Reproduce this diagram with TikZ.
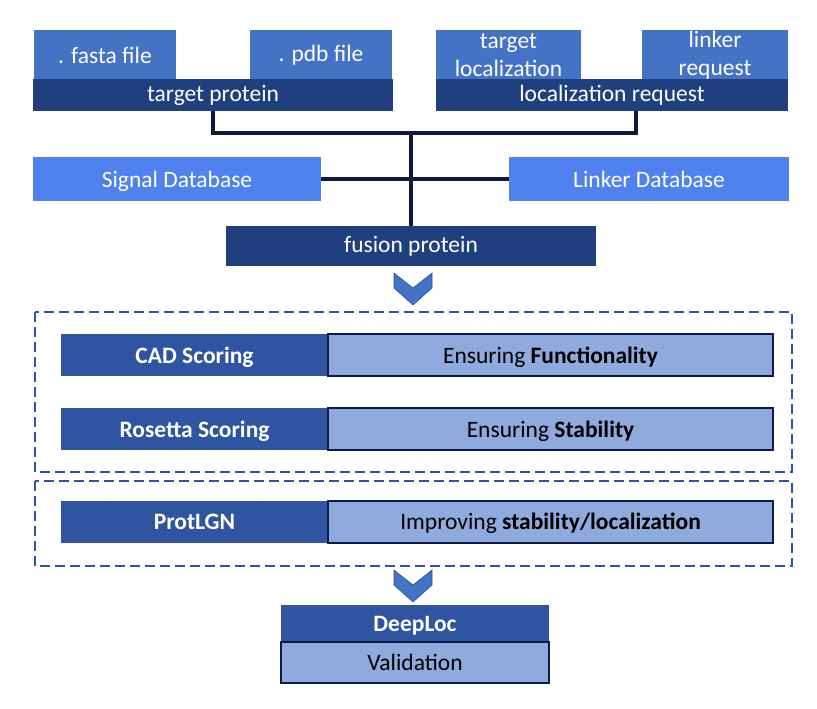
\documentclass[tikz,border=0pt]{standalone}
\usepackage{fontspec}
\setmainfont{Carlito}
\usetikzlibrary{positioning}

\definecolor{fileblue}{HTML}{4472C4}
\definecolor{barnavy}{HTML}{203F7E}
\definecolor{dbblue}{HTML}{4F81EF}
\definecolor{stepblue}{HTML}{2F54A1}
\definecolor{notefill}{HTML}{8FAADC}
\definecolor{noteline}{HTML}{0C1A48}
\definecolor{wirenavy}{HTML}{0E1A3A}
\definecolor{chevline}{HTML}{2F528F}

\begin{document}
\begin{tikzpicture}[x=1pt,y=-1pt,
    every node/.style={inner sep=0pt, outer sep=0pt, align=center,
                       font=\fontsize{23.5}{28}\selectfont},
    filebox/.style={fill=fileblue, text=white, minimum width=142pt, minimum height=50pt},
    bar/.style={fill=barnavy, text=white, minimum height=32pt},
    dbbox/.style={fill=dbblue, text=white, text depth=0pt, minimum width=284pt, minimum height=44pt},
    stepname/.style={fill=stepblue, text=white, text depth=0pt, font=\fontsize{23.5}{28}\selectfont\bfseries,
                     minimum width=267pt, minimum height=42pt},
    stepnote/.style={fill=notefill, draw=noteline, line width=2pt, text=black, text depth=0pt,
                     minimum width=445pt, minimum height=42pt},
    wire/.style={draw=wirenavy, line width=3.8pt},
    frame/.style={draw=stepblue, line width=2.8pt, dash pattern=on 10pt off 5pt},
    chevron/.style={fill=fileblue, draw=chevline, line width=0.6pt}]

    \useasboundingbox (0,0) rectangle (817,709);

    % inputs
    \node[filebox] (fasta) at (105,55)                      {. fasta file};
    \node[filebox] (pdb)   at (321,55)                      {. pdb file};
    \node[filebox, minimum width=145pt] (tloc) at (508.5,55) {target\\localization};
    \node[filebox, minimum width=146pt] (lreq) at (715,55)   {linker\\request};
    \node[bar, minimum width=360pt] (tprot)  at (213,95)    {target protein};
    \node[bar, minimum width=352pt] (locreq) at (612,95)    {localization request};

    \node[dbbox, minimum width=288pt] (sigdb) at (177,179)  {Signal Database};
    \node[dbbox, minimum width=280pt] (lnkdb) at (649,179)  {Linker Database};
    \node[bar, minimum width=370pt, minimum height=40pt] (fusion) at (411,246) {fusion protein};

    \coordinate (hub) at (411,133);
    \draw[wire] (tprot.south) |- (hub);
    \draw[wire] ([xshift=24pt]locreq.south) |- (hub);
    \draw[wire] (hub) -- (fusion.north);
    \draw[wire] (sigdb.east) -- (lnkdb.west);

    \draw[chevron, shift={(413,273)}] (-19,0) -- (0,15) -- (19,0) -- (19,15) -- (0,32) -- (-19,15) -- cycle;

    % scoring
    \draw[frame] (35,312) rectangle (792,472);
    \node[stepname] (cad) at (194.5,355)  {CAD Scoring};
    \node[stepnote] (cadnote) at (550.5,355) {Ensuring \textbf{Functionality}};
    \node[stepname] (ros) at (194.5,429)  {Rosetta Scoring};
    \node[stepnote] (rosnote) at (550.5,429) {Ensuring \textbf{Stability}};

    \draw[frame] (35,481) rectangle (792,566);
    \node[stepname] (plgn) at (194.5,521.5)  {ProtLGN};
    \node[stepnote] (plgnnote) at (550.5,521.5) {Improving \textbf{stability/localization}};

    \draw[chevron, shift={(413,570)}] (-19,0) -- (0,15) -- (19,0) -- (19,15) -- (0,32) -- (-19,15) -- cycle;

    % validation
    \node[stepname, minimum width=268pt, minimum height=37pt] (dloc) at (415,623.5) {DeepLoc};
    \node[stepnote, minimum width=268pt, minimum height=41pt] (valid) at (415,662.5) {Validation};
\end{tikzpicture}
\end{document}
